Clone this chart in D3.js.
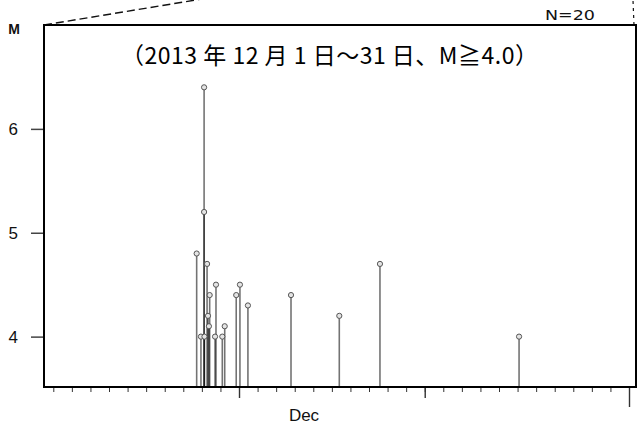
<!DOCTYPE html>
<html>
<head>
<meta charset="utf-8">
<script src="https://cdn.jsdelivr.net/npm/d3@7/dist/d3.min.js"></script>
<style>
  body { margin: 0; background: #fff; }
  svg { display: block; }
</style>
</head>
<body>
<div id="chart"></div>
<script>

// event times as decimal day of December 2013, and magnitudes
var eventDays = [8.72, 8.95, 9.12, 9.12, 9.14, 9.28, 9.33, 9.38, 9.42, 9.71,
                 9.76, 10.10, 10.23, 10.85, 11.05, 11.48, 13.80, 16.40, 18.59, 26.08];
var eventMags = [4.8, 4.0, 6.4, 5.2, 4.0, 4.7, 4.2, 4.1, 4.4, 4.0,
                 4.5, 4.0, 4.1, 4.4, 4.5, 4.3, 4.4, 4.2, 4.7, 4.0];

var magTicks = [4, 5, 6];
var dayTicks = d3.range(1, 33);      // daily ticks, 32 = Jan 1
var tenDayTicks = [11, 21];
var monthTicks = [32];
var monthLabel = "Dec";
var monthLabelDay = 14.5;

var titleText = "（2013 年 12 月 1 日～31 日、M≧4.0）";
var countText = "N=20";
var magLabel = "M";


MTChart = function(container){

    this.container = container;

    this.full_width = 639;
    this.full_height = 424;
    this.frame = {left: 44, right: 636, top: 25, bottom: 387};

    this._build_graph();
    this._draw_callout();
    this._draw_axes();
    this._draw_events();
    this._draw_texts();
    this._draw_frame();
};

MTChart.prototype._build_graph = function(){

    var f = this.frame;

    this._svg = d3.select(this.container)
        .append("svg")
        .attr("width", this.full_width)
        .attr("height", this.full_height);

    this.x = d3.scaleLinear().domain([1, 32]).range([53.3, 629]);
    this.y = d3.scaleLinear().domain([3.515, 7.0]).range([f.bottom, f.top]);
};

MTChart.prototype._draw_callout = function(){

    var f = this.frame;

    // dashed leader lines going up to the map above
    this._svg.append("line")
        .attr("x1", f.left).attr("y1", f.top)
        .attr("x2", f.left + 170).attr("y2", f.top - 28)
        .style("stroke", "#111")
        .style("stroke-width", 1.4)
        .style("stroke-dasharray", "8,4");

    this._svg.append("line")
        .attr("x1", f.right - 2).attr("y1", f.top)
        .attr("x2", f.right - 3).attr("y2", 0)
        .style("stroke", "#111")
        .style("stroke-width", 1.2)
        .style("stroke-dasharray", "3,4");
};

MTChart.prototype._draw_axes = function(){

    var self = this;
    var f = this.frame;

    var addTicks = function(values, size, width){
        var g = self._svg.append("g")
            .attr("transform", "translate(0," + f.bottom + ")")
            .call(d3.axisBottom(self.x).tickValues(values).tickSize(size).tickFormat(""));
        g.select(".domain").remove();
        g.selectAll(".tick line")
            .style("stroke", "#333")
            .style("stroke-width", width);
    };

    addTicks(dayTicks, 5, 1);
    addTicks(tenDayTicks, 11, 1.4);
    addTicks(monthTicks, 20, 1.4);

    this._svg.append("text")
        .attr("x", this.x(monthLabelDay))
        .attr("y", 421)
        .attr("text-anchor", "middle")
        .style("font-family", "'Liberation Sans', Arial, sans-serif")
        .style("font-size", "17px")
        .style("fill", "#111")
        .text(monthLabel);

    var gy = this._svg.append("g")
        .attr("transform", "translate(" + f.left + ",0)")
        .call(d3.axisLeft(this.y).tickValues(magTicks).tickSize(13).tickPadding(13)
            .tickFormat(d3.format("d")));
    gy.select(".domain").remove();
    gy.selectAll(".tick line")
        .style("stroke", "#444")
        .style("stroke-width", 1.5);
    gy.selectAll(".tick text")
        .style("font-family", "'Liberation Sans', Arial, sans-serif")
        .style("font-size", "17px")
        .style("fill", "#111");
};

MTChart.prototype._draw_events = function(){

    var self = this;
    var f = this.frame;
    var data = eventDays.map(function(d, i){ return {day: d, mag: eventMags[i]}; });

    var g = this._svg.append("g");

    g.selectAll("line.stem")
        .data(data)
        .enter()
        .append("line")
        .attr("class", "stem")
        .attr("x1", function(d){ return self.x(d.day); })
        .attr("x2", function(d){ return self.x(d.day); })
        .attr("y1", f.bottom)
        .attr("y2", function(d){ return self.y(d.mag); })
        .style("stroke", "#000")
        .style("stroke-opacity", 0.55)
        .style("stroke-width", 1.6);

    g.selectAll("circle")
        .data(data)
        .enter()
        .append("circle")
        .attr("cx", function(d){ return self.x(d.day); })
        .attr("cy", function(d){ return self.y(d.mag); })
        .attr("r", 2.6)
        .style("fill", "#e4e4e4")
        .style("stroke", "#555")
        .style("stroke-width", 1);
};

MTChart.prototype._draw_texts = function(){

    var f = this.frame;

    this._svg.append("text")
        .attr("x", 121)
        .attr("y", 64)
        .attr("textLength", 417)
        .attr("lengthAdjust", "spacing")
        .style("font-family", "'Noto Sans CJK JP', sans-serif")
        .style("font-size", "23px")
        .style("fill", "#000")
        .text(titleText);

    this._svg.append("text")
        .attr("x", 545)
        .attr("y", 20)
        .attr("textLength", 50)
        .attr("lengthAdjust", "spacingAndGlyphs")
        .style("font-family", "'DejaVu Sans', sans-serif")
        .style("font-size", "14px")
        .style("fill", "#111")
        .text(countText);

    this._svg.append("text")
        .attr("x", 14)
        .attr("y", 34)
        .attr("text-anchor", "middle")
        .style("font-family", "'Liberation Sans', Arial, sans-serif")
        .style("font-size", "14px")
        .style("font-weight", "bold")
        .style("fill", "#111")
        .text(magLabel);
};

MTChart.prototype._draw_frame = function(){

    var f = this.frame;

    this._svg.append("rect")
        .attr("x", f.left)
        .attr("y", f.top)
        .attr("width", f.right - f.left)
        .attr("height", f.bottom - f.top)
        .style("fill", "none")
        .style("stroke", "#000")
        .style("stroke-width", 2);
};

new MTChart("#chart");

</script>
</body>
</html>
